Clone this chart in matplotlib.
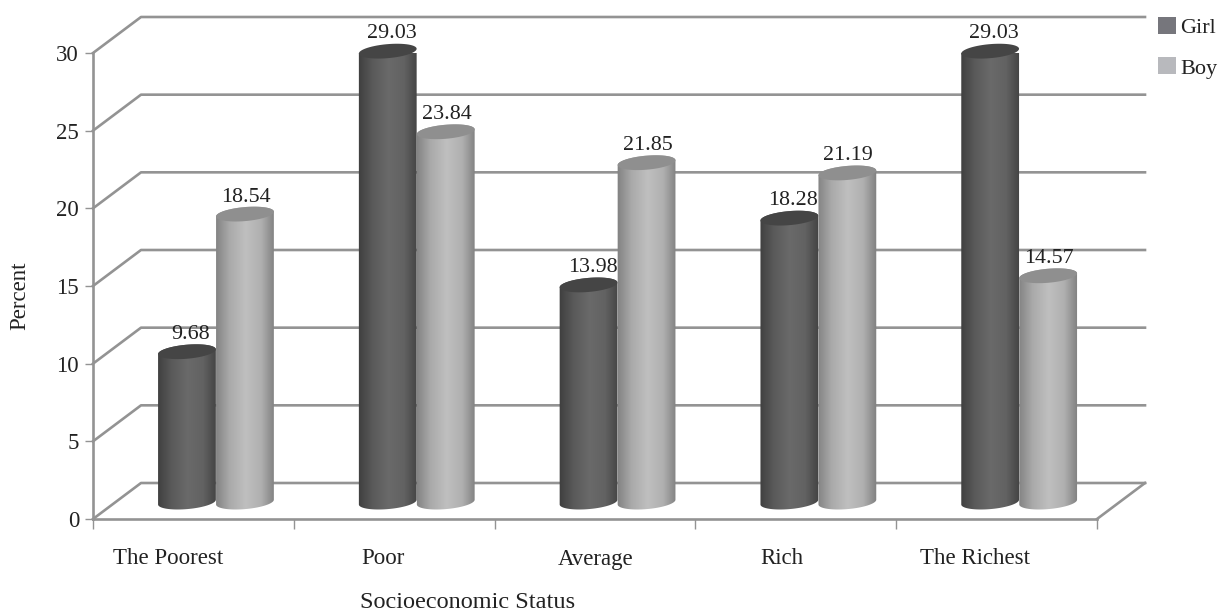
import numpy as np
import matplotlib
matplotlib.use("Agg")
import matplotlib.pyplot as plt
from matplotlib.patches import Patch, Polygon
from matplotlib.colors import LinearSegmentedColormap

categories = ["The Poorest", "Poor", "Average", "Rich", "The Richest"]
girl = [9.68, 29.03, 13.98, 18.28, 29.03]
boy = [18.54, 23.84, 21.85, 21.19, 14.57]
y_ticks = [0, 5, 10, 15, 20, 25, 30]

plt.rcParams['font.family'] = ['Liberation Serif', 'DejaVu Serif']

W, H = 1221, 613
fig = plt.figure(figsize=(W / 100, H / 100), dpi=100)
ax = fig.add_axes([93 / W, (H - 519) / H, 1004 / W, 466 / H])
ax.set_xlim(0, 5)
ax.set_ylim(0, 30)
ax.patch.set_alpha(0)

# size of one data unit in pixels, the cylinders are laid out in pixels
sx = 1004 / 5
sy = 466 / 30
depth_x = 48 / sx
depth_y = 36 / sy

grid_col = '#939393'
text_col = '#222222'

# the 3D box: back wall lines and the slanted side lines
for t in y_ticks:
    ax.plot([0, depth_x, 5 + depth_x], [t, t + depth_y, t + depth_y],
            color=grid_col, lw=1.9, clip_on=False, zorder=1)
ax.plot([5, 5 + depth_x], [0, depth_y], color=grid_col, lw=1.9, clip_on=False, zorder=1)

for side in ['top', 'right']:
    ax.spines[side].set_visible(False)
for side in ['left', 'bottom']:
    ax.spines[side].set_color(grid_col)
    ax.spines[side].set_linewidth(1.9)

ax.set_yticks(y_ticks)
ax.set_xticks(range(6))
ax.set_xticklabels([])
ax.tick_params(axis='y', length=6, width=1.0, color=grid_col, labelsize=16.5,
               labelcolor=text_col, pad=4)
ax.tick_params(axis='x', length=7, width=1.0, color=grid_col)

girl_cmap = LinearSegmentedColormap.from_list(
    'girl', ['#3c3c3c', '#5a5a5a', '#6a6a6a', '#626262', '#3e3e3e'])
boy_cmap = LinearSegmentedColormap.from_list(
    'boy', ['#7e7e7e', '#aaaaaa', '#bfbfbf', '#b0b0b0', '#787878'])
ramp = np.linspace(0, 1, 256).reshape(1, -1)

bar_w = 58 / sx
floor_x = 0.47 * depth_x
floor_y = 0.47 * depth_y
semi_minor = 7.0
tilt = np.radians(5)


def ellipse_arc(cx, cy, start, stop):
    # points of a slightly tilted ellipse, returned in data coordinates
    a = np.linspace(start, stop, 60)
    px = 29 * np.cos(a)
    py = semi_minor * np.sin(a)
    xr = px * np.cos(tilt) - py * np.sin(tilt)
    yr = px * np.sin(tilt) + py * np.cos(tilt)
    return np.column_stack([cx + xr / sx, cy + yr / sy])


def cylinder(cx, value, cmap, top_col, z):
    base = floor_y
    top = floor_y + value
    lower = ellipse_arc(cx, base, np.pi, 2 * np.pi)
    upper = ellipse_arc(cx, top, 0, np.pi)
    body = Polygon(np.vstack([lower, upper]), closed=True, fc='none', ec='none',
                   transform=ax.transData)
    ax.add_patch(body)
    im = ax.imshow(ramp, cmap=cmap, aspect='auto', vmin=0, vmax=1, zorder=z,
                   extent=[cx - bar_w / 2 - 0.01, cx + bar_w / 2 + 0.01, base - 1, top + 1])
    im.set_clip_path(body)
    cap = ellipse_arc(cx, top, 0, 2 * np.pi)
    ax.add_patch(Polygon(cap, closed=True, fc=top_col, ec='none', zorder=z + 0.1,
                         clip_on=False))


for i in range(len(categories)):
    centre = i + 0.5 + floor_x
    x_girl = centre - bar_w / 2
    x_boy = centre + bar_w / 2
    cylinder(x_girl, girl[i], girl_cmap, '#454545', 3)
    cylinder(x_boy, boy[i], boy_cmap, '#8f8f8f', 4)
    ax.text(x_girl + 0.02, girl[i] + floor_y + 1.12, f"{girl[i]:.2f}", ha='center', va='center',
            fontsize=15.8, color=text_col, zorder=6)
    ax.text(x_boy + 0.005, boy[i] + floor_y + 1.1, f"{boy[i]:.2f}", ha='center', va='center',
            fontsize=15.8, color=text_col, zorder=6)

ax.set_xlim(0, 5)
ax.set_ylim(0, 30)

# category labels are not centred on the groups in the original
label_x = [168, 383, 596, 782, 975]
for name, px in zip(categories, label_x):
    fig.text(px / W, 1 - 559 / H, name, ha='center', va='center', fontsize=16.5, color=text_col)

fig.text(468 / W, 1 - 603 / H, "Socioeconomic Status", ha='center', va='center',
         fontsize=17.5, color=text_col)
fig.text(20 / W, 1 - 296 / H, "Percent", ha='center', va='center', rotation=90,
         fontsize=16.5, color=text_col)

handles = [Patch(fc='#76767c', label='Girl'), Patch(fc='#b8b9bd', label='Boy')]
fig.legend(handles=handles, loc='upper left', bbox_to_anchor=(1156 / W, 1 - 15 / H),
           frameon=False, fontsize=16, handlelength=0.78, handleheight=0.8,
           handletextpad=0.2, labelspacing=0.85, borderpad=0.1, borderaxespad=0,
           labelcolor=text_col)

fig.savefig('out.png', dpi=100)
